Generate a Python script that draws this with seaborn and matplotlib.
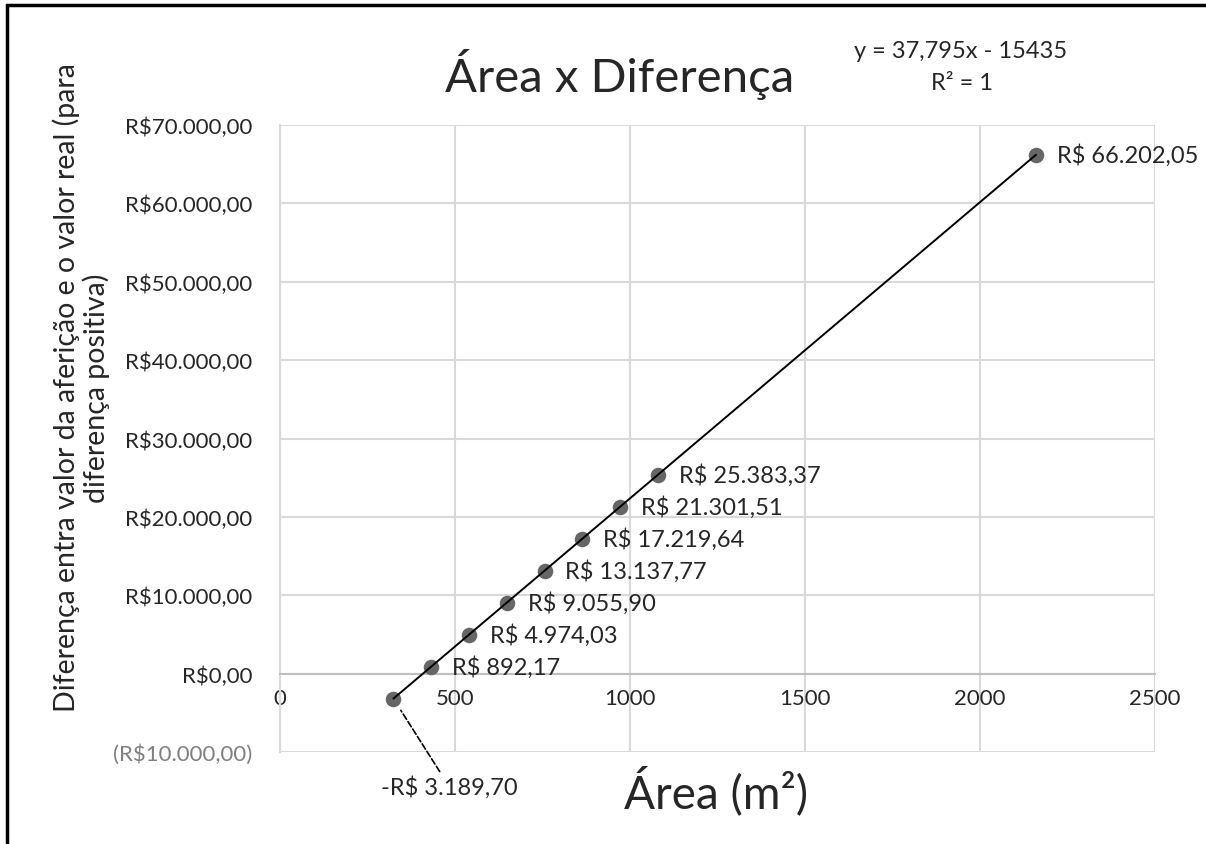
import matplotlib
matplotlib.use("Agg")
import matplotlib.pyplot as plt
from matplotlib.patches import Rectangle
from matplotlib.ticker import FuncFormatter
import seaborn as sns
import numpy as np
import pandas as pd

# Data (área em m², diferença em R$)
areas = [324, 432, 540, 648, 756, 864, 972, 1080, 2160]
diffs = [-3189.70, 892.17, 4974.03, 9055.90, 13137.77, 17219.64, 21301.51, 25383.37, 66202.05]
x_ticks = [0, 500, 1000, 1500, 2000, 2500]
y_ticks = [-10000, 0, 10000, 20000, 30000, 40000, 50000, 60000, 70000]

df = pd.DataFrame({"area": areas, "diff": diffs})


def brl(v):
    return f"{abs(v):,.2f}".replace(",", "X").replace(".", ",").replace("X", ".")


def label_fmt(v):
    return f"-R$ {brl(v)}" if v < 0 else f"R$ {brl(v)}"


def tick_fmt(v, pos=None):
    return f"(R${brl(v)})" if v < 0 else f"R${brl(v)}"


# Style
sns.set_style("white")
plt.rcParams['font.family'] = ['Lato', 'DejaVu Sans']

fig = plt.figure(figsize=(12.06, 8.45), dpi=100)
ax = fig.add_axes([280 / 1206, 1 - 753 / 845, 875 / 1206, 627 / 845])

sns.regplot(data=df, x="area", y="diff", ax=ax, ci=None, truncate=True,
            scatter_kws=dict(s=125, color="#666666", alpha=1, linewidths=0, zorder=3),
            line_kws=dict(color="black", linewidth=1.4, zorder=4))

ax.set_xlim(0, 2500)
ax.set_ylim(-10000, 70000)
ax.set_xticks(x_ticks)
ax.set_yticks(y_ticks)
ax.yaxis.set_major_formatter(FuncFormatter(tick_fmt))
ax.grid(True, color="#d9d9d9", linewidth=1.5)
ax.set_axisbelow(True)
ax.tick_params(length=0, labelsize=16)
ax.tick_params(axis="x", pad=10)
ax.tick_params(axis="y", pad=20)
for lbl in ax.get_yticklabels():
    if lbl.get_text().startswith("("):
        lbl.set_color("#7f7f7f")

# x axis crossing at zero
ax.spines['bottom'].set_position(('data', 0))
ax.spines['bottom'].set_color("#bfbfbf")
ax.spines['bottom'].set_linewidth(1.5)
ax.spines['left'].set_color("#d9d9d9")
ax.spines['left'].set_linewidth(1.5)
ax.spines['top'].set_visible(False)
ax.spines['right'].set_visible(False)

ax.set_xlabel("")
ax.set_ylabel("")

# Data labels
for a, d in zip(areas[1:], diffs[1:]):
    ax.annotate(label_fmt(d), (a, d), xytext=(15, 0), textcoords="offset points",
                va="center", ha="left", fontsize=17)
ax.annotate(label_fmt(diffs[0]), (areas[0], diffs[0]), xytext=(40, -63),
            textcoords="offset points", va="center", ha="center", fontsize=17,
            annotation_clip=False,
            arrowprops=dict(arrowstyle="-", linestyle="--", color="black",
                            linewidth=1.2, shrinkA=0, shrinkB=10))

# Trendline equation
slope, intercept = np.polyfit(areas, diffs, 1)
r2 = np.corrcoef(areas, diffs)[0, 1] ** 2
sign = "-" if intercept < 0 else "+"
eq = f"y = {slope:.3f}x {sign} {abs(intercept):.0f}".replace(".", ",")
fig.text(961 / 1206, 1 - 52 / 845, eq, ha="center", va="center", fontsize=17)
fig.text(962 / 1206, 1 - 83 / 845, f"R² = {r2:.0f}", ha="center", va="center", fontsize=17)

# Titles
fig.text(620 / 1206, 1 - 75 / 845, "Área x Diferença", ha="center", va="center", fontsize=34)
fig.text(716 / 1206, 1 - 791 / 845, "Área (m²)", ha="center", va="center", fontsize=33)
fig.text(81 / 1206, 1 - 388 / 845,
         "Diferença entra valor da aferição e o valor real (para\ndiferença positiva)",
         ha="center", va="center", rotation=90, fontsize=20.5, linespacing=1.12)

# Outer border
fig.patches.append(Rectangle((7 / 1206, -0.1), 1.2, 1.1 - 6 / 845, transform=fig.transFigure,
                             fill=False, edgecolor="black", linewidth=2.5, clip_on=False))

fig.savefig("out.png", dpi=100)
